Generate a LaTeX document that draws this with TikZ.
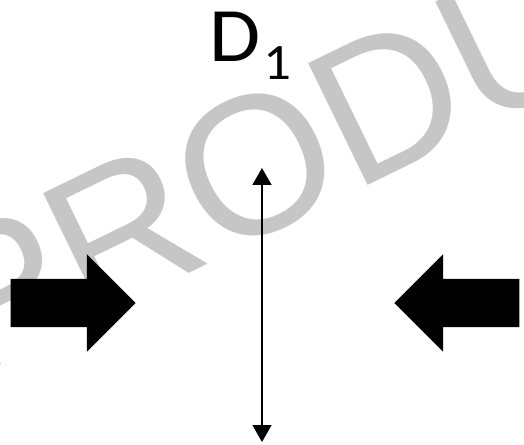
\documentclass[tikz,border=0pt]{standalone}
\usepackage{fontspec}
\newfontfamily\labelfont[FakeStretch=1.08]{Carlito}
\newfontfamily\stampfont{Liberation Sans}
\usetikzlibrary{shapes.arrows, arrows.meta, positioning}
\definecolor{stampgray}{RGB}{198,198,198}

\begin{document}
\begin{tikzpicture}[
        x=1pt, y=1pt,
        push_arrow/.style={single arrow, draw=none, fill=black, inner sep=0pt, inner ysep=24pt,
                           minimum width=0pt, minimum height=125pt,
                           single arrow head extend=24.5pt, single arrow tip angle=90},
        size_line/.style={{Triangle[width=19pt,length=17pt]}-{Triangle[width=19pt,length=17pt]}, line width=1.5pt},
        stamp/.style={font=\stampfont\fontsize{197}{197}\selectfont, text=stampgray, rotate=26,
                      anchor=base west, inner sep=0pt},
        lbl/.style={font=\labelfont\fontsize{77}{77}\selectfont, anchor=base west, inner sep=0pt}
    ]
    \useasboundingbox (0,0) rectangle (524,444);
    \clip (0,0) rectangle (524,444);

    \node[stamp] (mark) at (-30,64) {PRODU};

    \node[push_arrow] (push_left) at (61,141) {};
    \node[push_arrow, shape border rotate=180] (push_right) at (469,141) {};

    \coordinate (d_top) at (262,276);
    \coordinate (d_bottom) at (262,2);
    \draw[size_line] (d_bottom) -- (d_top);

    \node[lbl] (dlabel) at (209.5,382) {D\kern3pt\raisebox{-18pt}{\fontsize{51}{51}\selectfont 1}};
\end{tikzpicture}
\end{document}
